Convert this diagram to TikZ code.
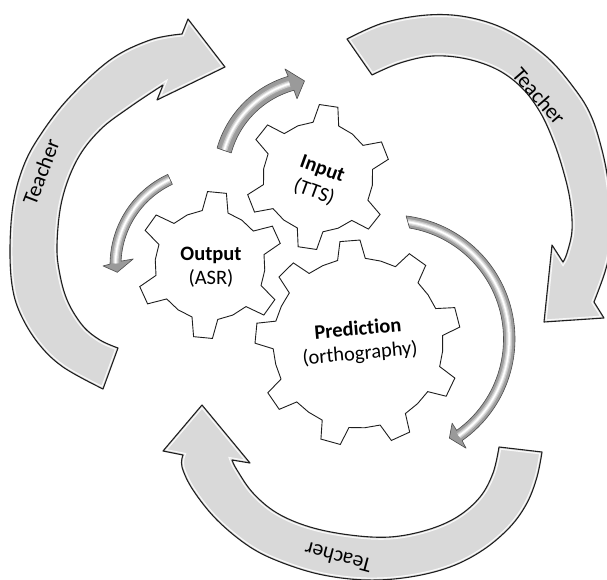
\documentclass[tikz,border=0pt]{standalone}
\usepackage{fontspec}
\setmainfont{Carlito}[Ligatures={NoCommon}]
\definecolor{arrowfill}{HTML}{D9D9D9}
\definecolor{smallfill}{HTML}{9A9A9A}
\definecolor{edgecol}{HTML}{1E1E1E}
\tikzset{
  bigedge/.style={draw=edgecol, line width=1.1pt, line join=round},
  gearstyle/.style={fill=white, draw=edgecol, line width=0.9pt, line join=miter},
  geartext/.style={align=center, font=\fontsize{20.5}{24.5}\selectfont, inner sep=0pt},
  teachtext/.style={font=\fontsize{21.5}{24}\selectfont, inner sep=0pt},
  smalledge/.style={draw=black!70, line width=0.6pt, line join=round},
}
\newcommand{\gpt}[2]{({\gcx+(#1)*cos(#2)},{\gcy+(#1)*sin(#2)})}
\newcommand{\drawgear}[8]{%
  \def\gcx{#1}\def\gcy{#2}%
  \pgfmathsetmacro\gs{360/#3}%
  \pgfmathtruncatemacro\gn{#3-1}%
  \filldraw[gearstyle] \gpt{#5}{#8-\gs/2} \foreach \k in {0,...,\gn}{
     -- \gpt{#5}{#8+\k*\gs-#7} -- \gpt{#4}{#8+\k*\gs-#6} -- \gpt{#4}{#8+\k*\gs+#6}
     -- \gpt{#5}{#8+\k*\gs+#7} -- \gpt{#5}{#8+\k*\gs+\gs/2}} -- cycle;
}
% big arrows
\newcommand{\pathA}{plot[smooth,tension=0.6] coordinates {(103,389) (63,367) (38,343) (20,313) (12,285) (10,247) (13,205) (22,170) (37,140) (67,100) (110,60) (150,40) (182,34)} -- (188,19) -- (225,67) -- (157,100) -- plot[smooth,tension=0.6] coordinates {(163,85) (130,107) (100,130) (77,160) (62,200) (57,245) (60,275) (68,302) (83,326) (100,340) (118,348)} -- cycle}
\newcommand{\pathB}{plot[smooth,tension=0.6] coordinates {(347,39) (383,23) (427,15) (467,17) (507,30) (547,57) (577,92) (592,118) (602,150) (608,180) (612,215) (611,245) (605,272) (594,302)} -- (604,318) -- (544,322) -- (552,245) -- plot[smooth,tension=0.6] coordinates {(563,262) (567,253) (572,230) (570,200) (563,170) (553,140) (540,112) (522,88) (498,70) (467,59) (433,56) (400,63) (372,75)} -- cycle}
\newcommand{\pathC}{plot[smooth,tension=0.6] coordinates {(542,452) (537,477) (527,503) (510,527) (483,550) (450,567) (410,577) (367,580) (323,575) (283,563) (250,547) (217,520) (193,490) (182,467) (183,455)} -- (163,451) -- (202,405) -- (250,463) -- plot[smooth,tension=0.6] coordinates {(232,460) (237,470) (253,493) (277,513) (310,527) (350,535) (390,537) (427,530) (457,517) (480,497) (493,473) (499,447)} -- cycle}
% small arrows
\newcommand{\pathSa}{plot[domain=196:253.5,samples=40,variable=\t] ({318+105*cos(\t)},{177+105*sin(\t)}) -- ({318+113*cos(253)},{177+113*sin(253)}) -- ({318+97*cos(262)},{177+97*sin(262)}) -- ({318+81*cos(255)},{177+81*sin(255)}) -- plot[domain=254.5:195.5,samples=40,variable=\t] ({318+90*cos(\t)},{177+90*sin(\t)}) -- cycle}
\newcommand{\midSa}{plot[domain=190:253,samples=40,variable=\t] ({318+97.5*cos(\t)},{177+97.5*sin(\t)})}
\newcommand{\pathSb}{plot[domain=245:180.5,samples=40,variable=\t] ({210+100*cos(\t)},{265+100*sin(\t)}) -- ({210+107*cos(179.5)},{265+107*sin(179.5)}) -- ({210+93*cos(175.5)},{265+93*sin(175.5)}) -- ({210+77*cos(184.5)},{265+77*sin(184.5)}) -- plot[domain=182.5:245,samples=40,variable=\t] ({210+89*cos(\t)},{265+89*sin(\t)}) -- cycle}
\newcommand{\midSb}{plot[domain=250:181,samples=40,variable=\t] ({210+94.5*cos(\t)},{265+94.5*sin(\t)})}
\newcommand{\pathSc}{plot[domain=-83:55,samples=60,variable=\t] ({391+124*cos(\t)},{339+124*sin(\t)}) -- ({391+132.5*cos(55.5)},{339+132.5*sin(55.5)}) -- ({391+115*cos(59.5)},{339+115*sin(59.5)}) -- ({391+104*cos(54)},{339+104*sin(54)}) -- plot[domain=54.3:-80.5,samples=60,variable=\t] ({391+112.5*cos(\t)},{339+112.5*sin(\t)}) -- cycle}
\newcommand{\midSc}{plot[domain=-88:55,samples=60,variable=\t] ({391+118.2*cos(\t)},{339+118.2*sin(\t)})}
\newcommand{\bigarrow}[1]{%
  \fill[arrowfill] #1;
  \begin{scope}
    \clip #1;
    \draw[white, line width=5pt, opacity=0.85] #1;
    \draw[arrowfill, line width=2.4pt] #1;
  \end{scope}
  \draw[bigedge] #1;
}
\newcommand{\smallarrow}[2]{%
  \fill[smallfill] #1;
  \begin{scope}
    \clip #1;
    \draw[gray!75, line width=9pt] #2;
    \draw[gray!45, line width=6pt] #2;
    \draw[gray!20, line width=3.5pt] #2;
    \draw[white, line width=1.5pt] #2;
  \end{scope}
  \draw[smalledge] #1;
}
\begin{document}
\begin{tikzpicture}[x=1pt,y=-1pt]
\useasboundingbox (0,0) rectangle (607,579);
\clip (0,0) rectangle (607,579);
\fill[white] (0,0) rectangle (607,579);
\bigarrow{\pathA}
\bigarrow{\pathB}
\bigarrow{\pathC}
\drawgear{210}{265}{6}{73.5}{55}{7.4}{13.6}{-84.5}
\drawgear{318}{177}{6}{72.5}{55}{7.4}{13.6}{-81.5}
\drawgear{358}{343}{9}{103}{85}{5.6}{9.4}{-94.5}
\smallarrow{\pathSa}{\midSa}
\smallarrow{\pathSb}{\midSb}
\smallarrow{\pathSc}{\midSc}
\node[teachtext, rotate=69] (tA) at (41,172) {Teacher};
\node[teachtext, rotate=-49] (tB) at (539,96) {Teacher};
\node[teachtext, rotate=165] (tC) at (338,558) {Teacher};
\node[geartext] (gout) at (211,267) {\textbf{Output}\\(ASR)};
\node[geartext, rotate=-20] (ginp) at (318,181) {\textbf{Input}\\(TTS)};
\node[geartext, rotate=5] (gpred) at (359,342) {\textbf{Prediction}\\(orthography)};
\end{tikzpicture}
\end{document}
